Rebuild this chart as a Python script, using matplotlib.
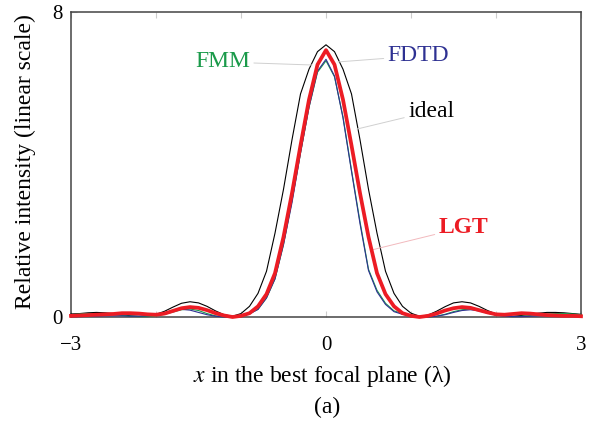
import numpy as np
import matplotlib
matplotlib.use("Agg")
import matplotlib.pyplot as plt

plt.rcParams['font.family'] = ['Liberation Serif', 'DejaVu Serif']
plt.rcParams['mathtext.fontset'] = 'stix'

# sample positions in the best focal plane (units of lambda)
x = np.linspace(-3, 3, 61)

ideal = [0.08, 0.09, 0.11, 0.12, 0.11, 0.09, 0.06, 0.03, 0.02, 0.03,
         0.07, 0.15, 0.26, 0.36, 0.40, 0.37, 0.28, 0.16, 0.06, 0.02,
         0.09, 0.28, 0.62, 1.20, 2.20, 3.35, 4.65, 5.85, 6.50, 6.96,
         7.14,
         6.96, 6.50, 5.85, 4.65, 3.35, 2.20, 1.20, 0.62, 0.28, 0.10,
         0.02, 0.05, 0.15, 0.27, 0.37, 0.40, 0.37, 0.28, 0.17, 0.08,
         0.03, 0.02, 0.04, 0.07, 0.10, 0.12, 0.12, 0.11, 0.09, 0.07]

fmm = [0.06, 0.08, 0.09, 0.09, 0.08, 0.06, 0.04, 0.02, 0.01, 0.01,
       0.03, 0.07, 0.13, 0.19, 0.21, 0.17, 0.09, 0.03, 0.00, 0.02,
       0.05, 0.09, 0.20, 0.50, 1.00, 1.90, 3.05, 4.30, 5.50, 6.42,
       6.72,
       6.30, 5.25, 3.85, 2.50, 1.25, 0.70, 0.36, 0.16, 0.09, 0.05,
       0.02, 0.00, 0.02, 0.07, 0.14, 0.19, 0.21, 0.18, 0.12, 0.06,
       0.02, 0.01, 0.02, 0.04, 0.06, 0.08, 0.09, 0.09, 0.08, 0.06]

fdtd = [0.01, 0.01, 0.02, 0.02, 0.03, 0.03, 0.03, 0.02, 0.02, 0.03,
        0.05, 0.10, 0.16, 0.20, 0.18, 0.12, 0.06, 0.02, 0.00, 0.01,
        0.04, 0.08, 0.20, 0.50, 1.00, 1.90, 3.00, 4.30, 5.50, 6.45,
        6.76,
        6.32, 5.22, 3.82, 2.45, 1.22, 0.66, 0.33, 0.14, 0.07, 0.04,
        0.01, 0.00, 0.02, 0.06, 0.12, 0.17, 0.19, 0.16, 0.10, 0.05,
        0.02, 0.01, 0.01, 0.02, 0.03, 0.03, 0.03, 0.02, 0.02, 0.01]

lgt = [0.03, 0.04, 0.05, 0.06, 0.07, 0.08, 0.10, 0.10, 0.09, 0.07,
       0.06, 0.09, 0.16, 0.23, 0.26, 0.24, 0.18, 0.10, 0.04, 0.00,
       0.03, 0.10, 0.28, 0.60, 1.15, 2.10, 3.25, 4.50, 5.70, 6.62,
       7.00,
       6.62, 5.70, 4.50, 3.25, 2.10, 1.15, 0.60, 0.28, 0.10, 0.03,
       0.00, 0.03, 0.09, 0.17, 0.23, 0.26, 0.24, 0.18, 0.12, 0.07,
       0.06, 0.08, 0.10, 0.09, 0.07, 0.05, 0.04, 0.03, 0.03, 0.02]

xticks = [-3, -2, -1, 0, 1, 2, 3]
xticklabels = ['\u22123', '', '', '0', '', '', '3']

green = '#1a9a4a'
blue = '#2e3192'
red = '#ec1c24'

fig = plt.figure(figsize=(5.95, 4.32), dpi=100)
ax = fig.add_axes([71 / 595, 1 - 317 / 432, 510 / 595, 305 / 432])

ax.plot(x, ideal, color='k', lw=0.8, clip_on=False, zorder=3)
ax.plot(x, fmm, color=green, lw=0.8, clip_on=False, zorder=3)
ax.plot(x, fdtd, color=blue, lw=0.8, clip_on=False, zorder=3)
ax.plot(x, lgt, color=red, lw=2.7, clip_on=False, zorder=4)

ax.set_xlim(-3, 3)
ax.set_ylim(0, 8)
ax.set_xticks(xticks)
ax.set_xticklabels(xticklabels)
ax.set_yticks([0, 8])
ax.set_yticklabels(['0', '8'])
ax.tick_params(direction='in', length=4, color='#cccccc', top=True,
               labelsize=15, pad=6)
ax.tick_params(axis='x', pad=14)
for s in ax.spines.values():
    s.set_color('#444444')
    s.set_linewidth(1.1)

# leader lines and curve labels
lead = '#d0d0d0'
ax.annotate('FMM', xy=(-0.165, 6.61), xytext=(-1.22, 6.69),
            color=green, fontsize=17, ha='center', va='center',
            arrowprops=dict(arrowstyle='-', color=lead, lw=0.7,
                            shrinkA=1, shrinkB=0))
ax.annotate('FDTD', xy=(0.14, 6.69), xytext=(1.09, 6.85),
            color=blue, fontsize=17, ha='center', va='center',
            arrowprops=dict(arrowstyle='-', color=lead, lw=0.7,
                            shrinkA=1, shrinkB=0))
ax.annotate('ideal', xy=(0.365, 4.93), xytext=(1.24, 5.4),
            color='k', fontsize=17, ha='center', va='center',
            arrowprops=dict(arrowstyle='-', color=lead, lw=0.7,
                            shrinkA=1, shrinkB=0))
ax.annotate('LGT', xy=(0.54, 1.76), xytext=(1.62, 2.35),
            color=red, fontsize=17, fontweight='bold', ha='center', va='center',
            arrowprops=dict(arrowstyle='-', color='#f2b9bd', lw=0.7,
                            shrinkA=1, shrinkB=0))

fig.text(25 / 595, 1 - 162 / 432, 'Relative intensity (linear scale)',
         rotation=90, ha='center', va='center', fontsize=17)
fig.text(322 / 595, 1 - 376 / 432, '$x$ in the best focal plane (\u03bb)',
         ha='center', va='center', fontsize=17)
fig.text(327 / 595, 1 - 407 / 432, '(a)', ha='center', va='center',
         fontsize=17)

fig.savefig('out.png', dpi=100)
